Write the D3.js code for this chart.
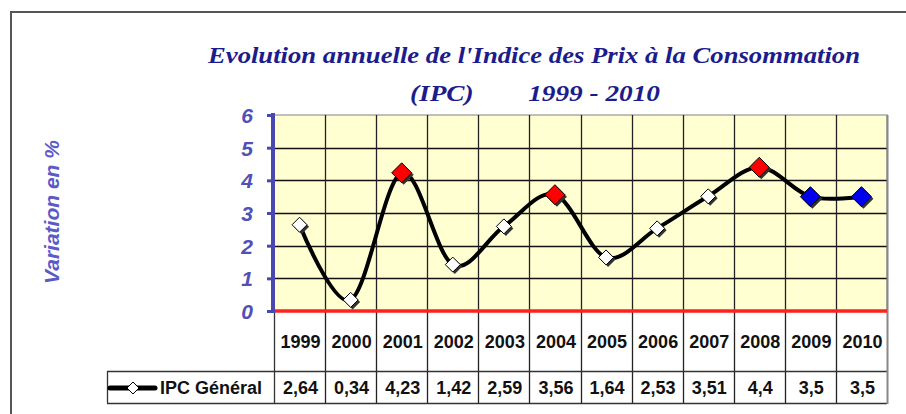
<!DOCTYPE html>
<html>
<head>
<meta charset="utf-8">
<script src="https://cdn.jsdelivr.net/npm/d3@7"></script>
<style>
  body { margin: 0; background: #ffffff; }
  svg { display: block; }
</style>
</head>
<body>
<script>
// chart data
var years = ["1999", "2000", "2001", "2002", "2003", "2004", "2005", "2006", "2007", "2008", "2009", "2010"];
var ipcValues = [2.64, 0.34, 4.23, 1.42, 2.59, 3.56, 1.64, 2.53, 3.51, 4.4, 3.5, 3.5];
var valueLabels = ["2,64", "0,34", "4,23", "1,42", "2,59", "3,56", "1,64", "2,53", "3,51", "4,4", "3,5", "3,5"];
var peakYears = ["2001", "2004", "2008"];
var lastYears = ["2009", "2010"];
var yTicks = [0, 1, 2, 3, 4, 5, 6];
var seriesName = "IPC Général";
var titleLines = ["Evolution annuelle de l'Indice des Prix à la Consommation", "(IPC)\u00a0\u00a0\u00a0\u00a0\u00a0\u00a0\u00a0 1999 - 2010"];

var screen = {width: 906, height: 414};
var plot = {left: 274, right: 887, top: 115, bottom: 311};
var table = {yearBottom: 371, valueBottom: 403, legendLeft: 107};

var svg = d3.select("body")
            .append("svg")
            .attr("width", screen.width)
            .attr("height", screen.height);

// outer frame (top and left only)
svg.append("path")
   .attr("d", "M11," + screen.height + "V12H" + screen.width)
   .attr("fill", "none")
   .attr("stroke", "#555")
   .attr("stroke-width", 2);

var xScale = d3.scaleBand()
               .domain(years)
               .range([plot.left, plot.right]);

var yScale = d3.scaleLinear()
               .domain([0, 6])
               .range([plot.bottom, plot.top]);

// plot background
svg.append("rect")
   .attr("x", plot.left)
   .attr("y", plot.top)
   .attr("width", plot.right - plot.left)
   .attr("height", plot.bottom - plot.top)
   .attr("fill", "#ffffd2")
   .attr("stroke", "#aaa")
   .attr("stroke-width", 1.5);

// horizontal gridlines
svg.append("g")
   .selectAll("line")
   .data(yTicks.filter(function(d){ return d > 0 && d < 6; }))
   .enter()
   .append("line")
   .attr("x1", plot.left)
   .attr("x2", plot.right)
   .attr("y1", function(d){ return Math.round(yScale(d)) + 0.5; })
   .attr("y2", function(d){ return Math.round(yScale(d)) + 0.5; })
   .attr("stroke", "#111")
   .attr("stroke-width", 1.3);

// vertical gridlines, continuing through the year row
svg.append("g")
   .selectAll("line")
   .data(years.slice(1))
   .enter()
   .append("line")
   .attr("x1", function(d){ return Math.round(xScale(d)) + 0.5; })
   .attr("x2", function(d){ return Math.round(xScale(d)) + 0.5; })
   .attr("y1", plot.top)
   .attr("y2", table.valueBottom)
   .attr("stroke", "#222")
   .attr("stroke-width", 1.3);

// table borders
var tableG = svg.append("g")
                .attr("fill", "none")
                .attr("stroke", "#333")
                .attr("stroke-width", 1.3);

tableG.append("line")
      .attr("x1", plot.left + 0.5).attr("x2", plot.left + 0.5)
      .attr("y1", plot.bottom).attr("y2", table.valueBottom);

tableG.append("line")
      .attr("x1", table.legendLeft).attr("x2", plot.right)
      .attr("y1", table.yearBottom + 0.5).attr("y2", table.yearBottom + 0.5);

tableG.append("line")
      .attr("x1", table.legendLeft).attr("x2", plot.right)
      .attr("y1", table.valueBottom + 0.5).attr("y2", table.valueBottom + 0.5);

tableG.append("line")
      .attr("x1", table.legendLeft + 0.5).attr("x2", table.legendLeft + 0.5)
      .attr("y1", table.yearBottom).attr("y2", table.valueBottom);

svg.append("line")
   .attr("x1", plot.right + 0.5).attr("x2", plot.right + 0.5)
   .attr("y1", plot.top).attr("y2", table.valueBottom + 1)
   .attr("stroke", "#888")
   .attr("stroke-width", 2);

// zero line
svg.append("line")
   .attr("x1", plot.left - 1)
   .attr("x2", plot.right)
   .attr("y1", yScale(0))
   .attr("y2", yScale(0))
   .attr("stroke", "#ff2020")
   .attr("stroke-width", 3.5);

// y axis
var yAxis = d3.axisLeft()
              .scale(yScale)
              .tickValues(yTicks)
              .tickFormat(d3.format("d"))
              .tickSize(6)
              .tickPadding(14);

var yAxisG = svg.append("g")
                .attr("transform", "translate(" + (plot.left - 1) + ",0)")
                .call(yAxis);

yAxisG.select(".domain")
      .attr("d", "M0," + (plot.top - 2) + "V" + (plot.bottom + 2))
      .attr("stroke", "#4848b0")
      .attr("stroke-width", 4);

yAxisG.selectAll(".tick line")
      .attr("stroke", "#4848b0")
      .attr("stroke-width", 3);

yAxisG.selectAll(".tick text")
      .attr("fill", "#5050b8")
      .attr("dy", "0.36em")
      .style("font-family", "Arial, 'Liberation Sans', sans-serif")
      .style("font-size", "21px")
      .style("font-weight", "bold")
      .style("font-style", "italic");

// y axis title
svg.append("text")
   .attr("transform", "translate(59,212) rotate(-90)")
   .attr("text-anchor", "middle")
   .attr("fill", "#5a5ac8")
   .style("font-family", "Arial, 'Liberation Sans', sans-serif")
   .style("font-size", "21px")
   .style("font-weight", "bold")
   .style("font-style", "italic")
   .text("Variation en %");

// title
svg.append("text")
   .attr("x", 534)
   .attr("y", 63)
   .attr("text-anchor", "middle")
   .attr("textLength", 652)
   .attr("lengthAdjust", "spacingAndGlyphs")
   .attr("fill", "#1c1c8c")
   .style("font-family", "'Liberation Serif', 'DejaVu Serif', serif")
   .style("font-size", "24px")
   .style("font-weight", "bold")
   .style("font-style", "italic")
   .text(titleLines[0]);

svg.append("text")
   .attr("x", 535)
   .attr("y", 101)
   .attr("text-anchor", "middle")
   .attr("textLength", 250)
   .attr("lengthAdjust", "spacingAndGlyphs")
   .attr("fill", "#1c1c8c")
   .style("font-family", "'Liberation Serif', 'DejaVu Serif', serif")
   .style("font-size", "24px")
   .style("font-weight", "bold")
   .style("font-style", "italic")
   .text(titleLines[1]);

// data
var points = years.map(function(y, i){ return {year: y, value: ipcValues[i], label: valueLabels[i]}; });

var lineGenerator = d3.line()
                      .x(function(d){ return xScale(d.year) + xScale.bandwidth() / 2; })
                      .y(function(d){ return yScale(d.value); })
                      .curve(d3.curveCatmullRom.alpha(0));

svg.append("path")
   .datum(points)
   .attr("d", lineGenerator)
   .attr("fill", "none")
   .attr("stroke", "#000")
   .attr("stroke-width", 4);

var markerSize = function(d)
{
  if (peakYears.indexOf(d.year) >= 0 || lastYears.indexOf(d.year) >= 0) return 10;
  return 7.5;
};

var markerFill = function(d)
{
  if (peakYears.indexOf(d.year) >= 0) return "#ff0000";
  if (lastYears.indexOf(d.year) >= 0) return "#0000ee";
  return "#ffffff";
};

var diamond = function(s)
{
  return "M0," + (-s) + "L" + s + ",0L0," + s + "L" + (-s) + ",0Z";
};

var markers = svg.append("g")
                 .selectAll("g")
                 .data(points)
                 .enter()
                 .append("g")
                 .attr("transform", function(d){
                   return "translate(" + (xScale(d.year) + xScale.bandwidth() / 2) + "," + yScale(d.value) + ")";
                 });

markers.append("path")
       .attr("d", function(d){ return diamond(markerSize(d)); })
       .attr("transform", "translate(2,2)")
       .attr("fill", "#333");

markers.append("path")
       .attr("d", function(d){ return diamond(markerSize(d)); })
       .attr("fill", markerFill)
       .attr("stroke", "#000")
       .attr("stroke-width", 1);

// table text
var cellFont = function(sel)
{
  sel.attr("text-anchor", "middle")
     .attr("fill", "#111")
     .style("font-family", "Arial, 'Liberation Sans', sans-serif")
     .style("font-size", "18px")
     .style("font-weight", "bold");
};

svg.append("g")
   .selectAll("text")
   .data(years)
   .enter()
   .append("text")
   .attr("x", function(d){ return xScale(d) + xScale.bandwidth() / 2 + 1; })
   .attr("y", 348)
   .call(cellFont)
   .text(function(d){ return d; });

svg.append("g")
   .selectAll("text")
   .data(points)
   .enter()
   .append("text")
   .attr("x", function(d){ return xScale(d.year) + xScale.bandwidth() / 2 + 1; })
   .attr("y", 394)
   .call(cellFont)
   .text(function(d){ return d.label; });

// legend
var legendY = 388;
svg.append("line")
   .attr("x1", 110)
   .attr("x2", 155)
   .attr("y1", legendY)
   .attr("y2", legendY)
   .attr("stroke", "#000")
   .attr("stroke-width", 5)
   .attr("stroke-linecap", "round");

svg.append("path")
   .attr("d", diamond(6))
   .attr("transform", "translate(133," + legendY + ")")
   .attr("fill", "#fff")
   .attr("stroke", "#000")
   .attr("stroke-width", 1);

svg.append("text")
   .attr("x", 160)
   .attr("y", 394)
   .attr("fill", "#111")
   .style("font-family", "Arial, 'Liberation Sans', sans-serif")
   .style("font-size", "18px")
   .style("font-weight", "bold")
   .text(seriesName);
</script>
</body>
</html>
